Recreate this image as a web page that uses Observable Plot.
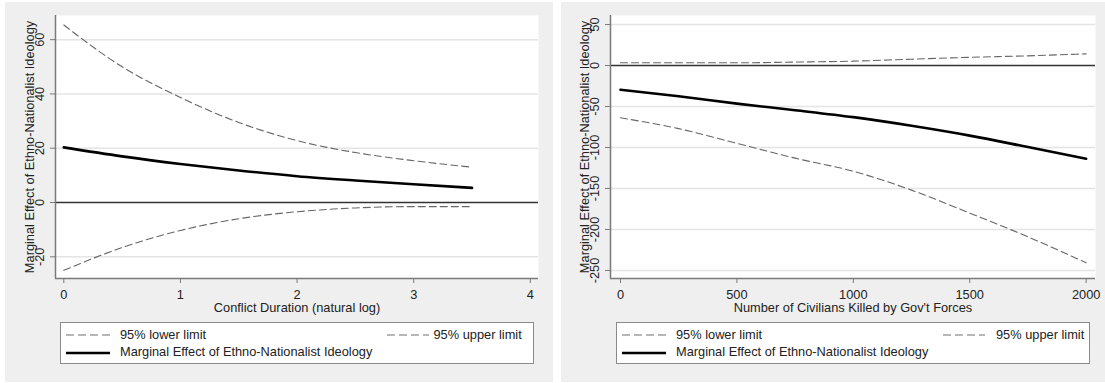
<!DOCTYPE html>
<html><head><meta charset="utf-8">
<script src="https://cdn.jsdelivr.net/npm/d3@7"></script>
<script src="https://cdn.jsdelivr.net/npm/@observablehq/plot@0.6"></script>
<style>
body{margin:0;background:#fff;width:1105px;height:383px;position:relative;overflow:hidden;font-family:"Liberation Sans",Arial,sans-serif;}
.panel{position:absolute;top:2px;height:380px;background:#efefef;}
.chart{position:absolute;top:0;}
.legend{position:absolute;top:322px;height:42px;background:#fff;border:1px solid #8a8a8a;box-sizing:border-box;}
.legend svg{position:absolute;overflow:visible;}
.legend span{position:absolute;font-size:12.8px;color:#222;line-height:14px;white-space:nowrap;}
</style>
</head><body>
<div class="panel" style="left:5px;width:548px"></div>
<div class="panel" style="left:561px;width:544px"></div>
<div id="c1" class="chart" style="left:5px"></div>
<div id="c2" class="chart" style="left:561px"></div>
<div id="l1" class="legend" style="left:60px;width:474px"></div>
<div id="l2" class="legend" style="left:616px;width:474px"></div>
<script>
// ---- Data ----
const yLabel = "Marginal Effect of Ethno-Nationalist Ideology";
const legendLower = "95% lower limit";
const legendUpper = "95% upper limit";
const legendMain = "Marginal Effect of Ethno-Nationalist Ideology";

// Left panel: Conflict Duration (natural log)
const leftXLabel = "Conflict Duration (natural log)";
const leftX     = [0, 0.5, 1, 1.5, 2, 2.5, 3, 3.5];
const leftMain  = [20.3, 17.0, 14.2, 11.8, 9.7, 8.1, 6.7, 5.4];
const leftUpper = [65.4, 50.0, 38.7, 29.5, 22.8, 18.4, 15.4, 13.0];
const leftLower = [-25.0, -16.6, -10.3, -6.0, -3.4, -2.0, -1.5, -1.5];
const leftXTicks = [0, 1, 2, 3, 4];
const leftYTicks = [-20, 0, 20, 40, 60];

// Right panel: Number of Civilians Killed by Gov't Forces
const rightXLabel = "Number of Civilians Killed by Gov't Forces";
const rightX     = [0, 250, 500, 750, 1000, 1250, 1500, 1750, 2000];
const rightMain  = [-29.6, -37.5, -46.5, -54.5, -63, -73.5, -85.5, -99.5, -113.8];
const rightUpper = [3.3, 3.3, 3.3, 4.2, 5.3, 7.7, 10, 11.8, 14.2];
const rightLower = [-63.8, -77, -95, -113, -129, -152, -180, -209, -240.6];
const rightXTicks = [0, 500, 1000, 1500, 2000];
const rightYTicks = [-250, -200, -150, -100, -50, 0, 50];

const FS = 12.8;
const TXT = "#222";
const AX = "#7a7a7a";

function panel({x, main, upper, lower, xDomain, yDomain, xTicks, yTicks, xLabel, width, marginLeft, marginRight}) {
  const rows = x.map((d, i) => ({x: d, main: main[i], upper: upper[i], lower: lower[i]}));
  const dash = {stroke: "#666", strokeWidth: 1.1, strokeDasharray: "7,4", curve: "monotone-x"};
  return Plot.plot({
    width, height: 320,
    marginLeft, marginRight, marginTop: 15, marginBottom: 42,
    x: {domain: xDomain},
    y: {domain: yDomain},
    style: {background: "transparent", fontFamily: "'Liberation Sans', Arial, sans-serif", fontSize: FS + "px", color: TXT, overflow: "visible"},
    marks: [
      Plot.frame({fill: "white"}),
      Plot.ruleY(yTicks.filter(d => d !== 0), {stroke: "#e4e4e4", strokeWidth: 1.5}),
      Plot.ruleY([0], {stroke: "#333", strokeWidth: 1.4}),
      Plot.ruleX([xDomain[0]], {stroke: AX, strokeWidth: 1.5}),
      Plot.ruleY([yDomain[0]], {stroke: AX, strokeWidth: 1.5}),
      Plot.axisX({ticks: xTicks, tickSize: 5, tickPadding: 6, stroke: AX, fill: TXT, label: null, fontSize: FS, tickFormat: d => String(d)}),
      Plot.axisY({ticks: yTicks, tickSize: 5, stroke: AX, label: null, tickFormat: () => ""}),
      Plot.text(yTicks, {x: () => xDomain[0], y: d => d, text: d => String(d), rotate: -90, dx: -15.5, fill: TXT, fontSize: FS, textAnchor: "middle", lineAnchor: "middle"}),
      Plot.text([yLabel], {frameAnchor: "left", rotate: -90, dx: -26, text: d => d, fill: TXT, fontSize: FS, textAnchor: "middle", lineAnchor: "middle"}),
      Plot.text([xLabel], {frameAnchor: "bottom", dy: 29, text: d => d, fill: TXT, fontSize: FS, textAnchor: "middle", lineAnchor: "middle"}),
      Plot.line(rows, {x: "x", y: "upper", ...dash}),
      Plot.line(rows, {x: "x", y: "lower", ...dash}),
      Plot.line(rows, {x: "x", y: "main", stroke: "black", strokeWidth: 2.6, curve: "monotone-x"})
    ]
  });
}

document.getElementById("c1").append(panel({
  x: leftX, main: leftMain, upper: leftUpper, lower: leftLower,
  xDomain: [-0.0711, 4.07], yDomain: [-28.0, 68.9],
  xTicks: leftXTicks, yTicks: leftYTicks, xLabel: leftXLabel,
  width: 548, marginLeft: 50, marginRight: 15
}));
document.getElementById("c2").append(panel({
  x: rightX, main: rightMain, upper: rightUpper, lower: rightLower,
  xDomain: [-42.9, 2040.2], yDomain: [-259.8, 61.0],
  xTicks: rightXTicks, yTicks: rightYTicks, xLabel: rightXLabel,
  width: 544, marginLeft: 49, marginRight: 10
}));

function legend(id, col2Dash, col2Text) {
  const el = document.getElementById(id);
  const ns = "http://www.w3.org/2000/svg";
  function sample(x1, x2, y, dashed) {
    const s = document.createElementNS(ns, "svg");
    s.setAttribute("width", x2 - x1 + 4); s.setAttribute("height", 6);
    s.style.left = (x1 - 2) + "px"; s.style.top = (y - 3) + "px";
    const l = document.createElementNS(ns, "line");
    l.setAttribute("x1", 2); l.setAttribute("x2", x2 - x1 + 2);
    l.setAttribute("y1", 3); l.setAttribute("y2", 3);
    if (dashed) { l.setAttribute("stroke", "#a0a0a0"); l.setAttribute("stroke-width", 1.6); l.setAttribute("stroke-dasharray", "8,4"); }
    else { l.setAttribute("stroke", "black"); l.setAttribute("stroke-width", 2.4); }
    s.append(l); el.append(s);
  }
  function label(x, y, t) {
    const sp = document.createElement("span");
    sp.textContent = t; sp.style.left = x + "px"; sp.style.top = (y - 7) + "px";
    el.append(sp);
  }
  sample(5, 49, 11.5, true);  label(59, 11.5, legendLower);
  sample(col2Dash[0], col2Dash[1], 11.5, true); label(col2Text, 11.5, legendUpper);
  sample(5, 49, 29.5, false); label(59, 29, legendMain);
}
legend("l1", [326, 368], 372.5);
legend("l2", [326, 368], 379);
</script>
</body></html>
